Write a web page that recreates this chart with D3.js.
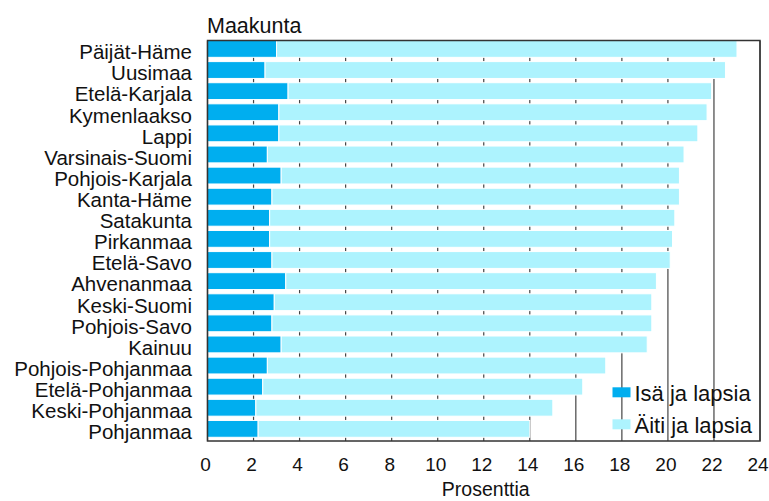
<!DOCTYPE html>
<html>
<head>
<meta charset="utf-8">
<script src="https://cdn.jsdelivr.net/npm/d3@7"></script>
<style>
  body { margin: 0; background: #fff; }
  text { font-family: "Liberation Sans", Arial, sans-serif; fill: #111; }
</style>
</head>
<body>
<div id="chart"></div>
<script>
// Regions (top to bottom)
const regions = ["Päijät-Häme", "Uusimaa", "Etelä-Karjala", "Kymenlaakso", "Lappi",
    "Varsinais-Suomi", "Pohjois-Karjala", "Kanta-Häme", "Satakunta", "Pirkanmaa",
    "Etelä-Savo", "Ahvenanmaa", "Keski-Suomi", "Pohjois-Savo", "Kainuu",
    "Pohjois-Pohjanmaa", "Etelä-Pohjanmaa", "Keski-Pohjanmaa", "Pohjanmaa"];

// Isä ja lapsia (%)
const isaValues = [3.0, 2.5, 3.5, 3.1, 3.1, 2.6, 3.2, 2.8, 2.7, 2.7,
    2.8, 3.4, 2.9, 2.8, 3.2, 2.6, 2.4, 2.1, 2.2];

// Äiti ja lapsia (%)
const aitiValues = [20.0, 20.0, 18.4, 18.6, 18.2, 18.1, 17.3, 17.7, 17.6, 17.5,
    17.3, 16.1, 16.4, 16.5, 15.9, 14.7, 13.9, 12.9, 11.8];

const seriesNames = ["Isä ja lapsia", "Äiti ja lapsia"];
const seriesColors = ["#00aeef", "#adf3fe"];
const xTicks = d3.range(0, 25, 2);

function init() {
    const width = 769, height = 501;
    const margin = { top: 41, right: 9, bottom: 60, left: 207.5 };

    const svg = d3.select("#chart").append("svg")
        .attr("width", width)
        .attr("height", height);

    const x = d3.scaleLinear()
        .domain([0, 24])
        .range([margin.left, width - margin.right]);

    const y = d3.scaleBand()
        .domain(regions)
        .range([margin.top, height - margin.bottom])
        .paddingInner(0.25)
        .paddingOuter(0.1)
        .align(0);

    // vertical grid lines behind bars
    svg.append("g")
        .selectAll("line")
        .data(xTicks)
        .enter().append("line")
        .attr("x1", d => x(d)).attr("x2", d => x(d))
        .attr("y1", margin.top).attr("y2", height - margin.bottom)
        .attr("stroke", "#444")
        .attr("stroke-width", 1.2);

    // stacked bars
    const rows = regions.map((r, i) => ({ region: r, isa: isaValues[i], aiti: aitiValues[i] }));
    const stack = d3.stack().keys(["isa", "aiti"])(rows);

    svg.append("g")
        .selectAll("g")
        .data(stack)
        .enter().append("g")
        .attr("fill", (d, i) => seriesColors[i])
        .selectAll("rect")
        .data(d => d)
        .enter().append("rect")
        .attr("x", d => x(d[0]))
        .attr("y", d => y(d.data.region) - 0.5)
        .attr("width", d => x(d[1]) - x(d[0]))
        .attr("height", y.bandwidth() + 1)
        .attr("stroke", "#fff")
        .attr("stroke-width", 1);

    // frame
    svg.append("rect")
        .attr("x", margin.left)
        .attr("y", margin.top - 0.5)
        .attr("width", x(24) - margin.left)
        .attr("height", height - margin.bottom - margin.top + 0.5)
        .attr("fill", "none")
        .attr("stroke", "#333")
        .attr("stroke-width", 1.5);

    // region labels
    svg.append("g")
        .selectAll("text")
        .data(regions)
        .enter().append("text")
        .attr("x", 192)
        .attr("y", d => y(d) + y.bandwidth() / 2 + 10.3)
        .attr("text-anchor", "end")
        .attr("font-size", 20.5)
        .text(d => d);

    // x tick labels
    svg.append("g")
        .selectAll("text")
        .data(xTicks)
        .enter().append("text")
        .attr("x", d => x(d) - 2)
        .attr("y", 470.5)
        .attr("text-anchor", "middle")
        .attr("font-size", 19)
        .text(d => d);

    // titles
    svg.append("text")
        .attr("x", 207)
        .attr("y", 33)
        .attr("font-size", 21.5)
        .text("Maakunta");

    svg.append("text")
        .attr("x", (x(0) + x(24)) / 2 + 2)
        .attr("y", 496)
        .attr("text-anchor", "middle")
        .attr("font-size", 19.5)
        .text("Prosenttia");

    // legend
    const legend = svg.append("g")
        .selectAll("g")
        .data(seriesNames)
        .enter().append("g")
        .attr("transform", (d, i) => `translate(612.5, ${387.3 + i * 32})`);

    legend.append("rect")
        .attr("width", 18)
        .attr("height", 10)
        .attr("fill", (d, i) => seriesColors[i]);

    legend.append("text")
        .attr("x", 22)
        .attr("y", 13.5)
        .attr("font-size", 22)
        .text(d => d);
}
window.onload = init;
</script>
</body>
</html>
